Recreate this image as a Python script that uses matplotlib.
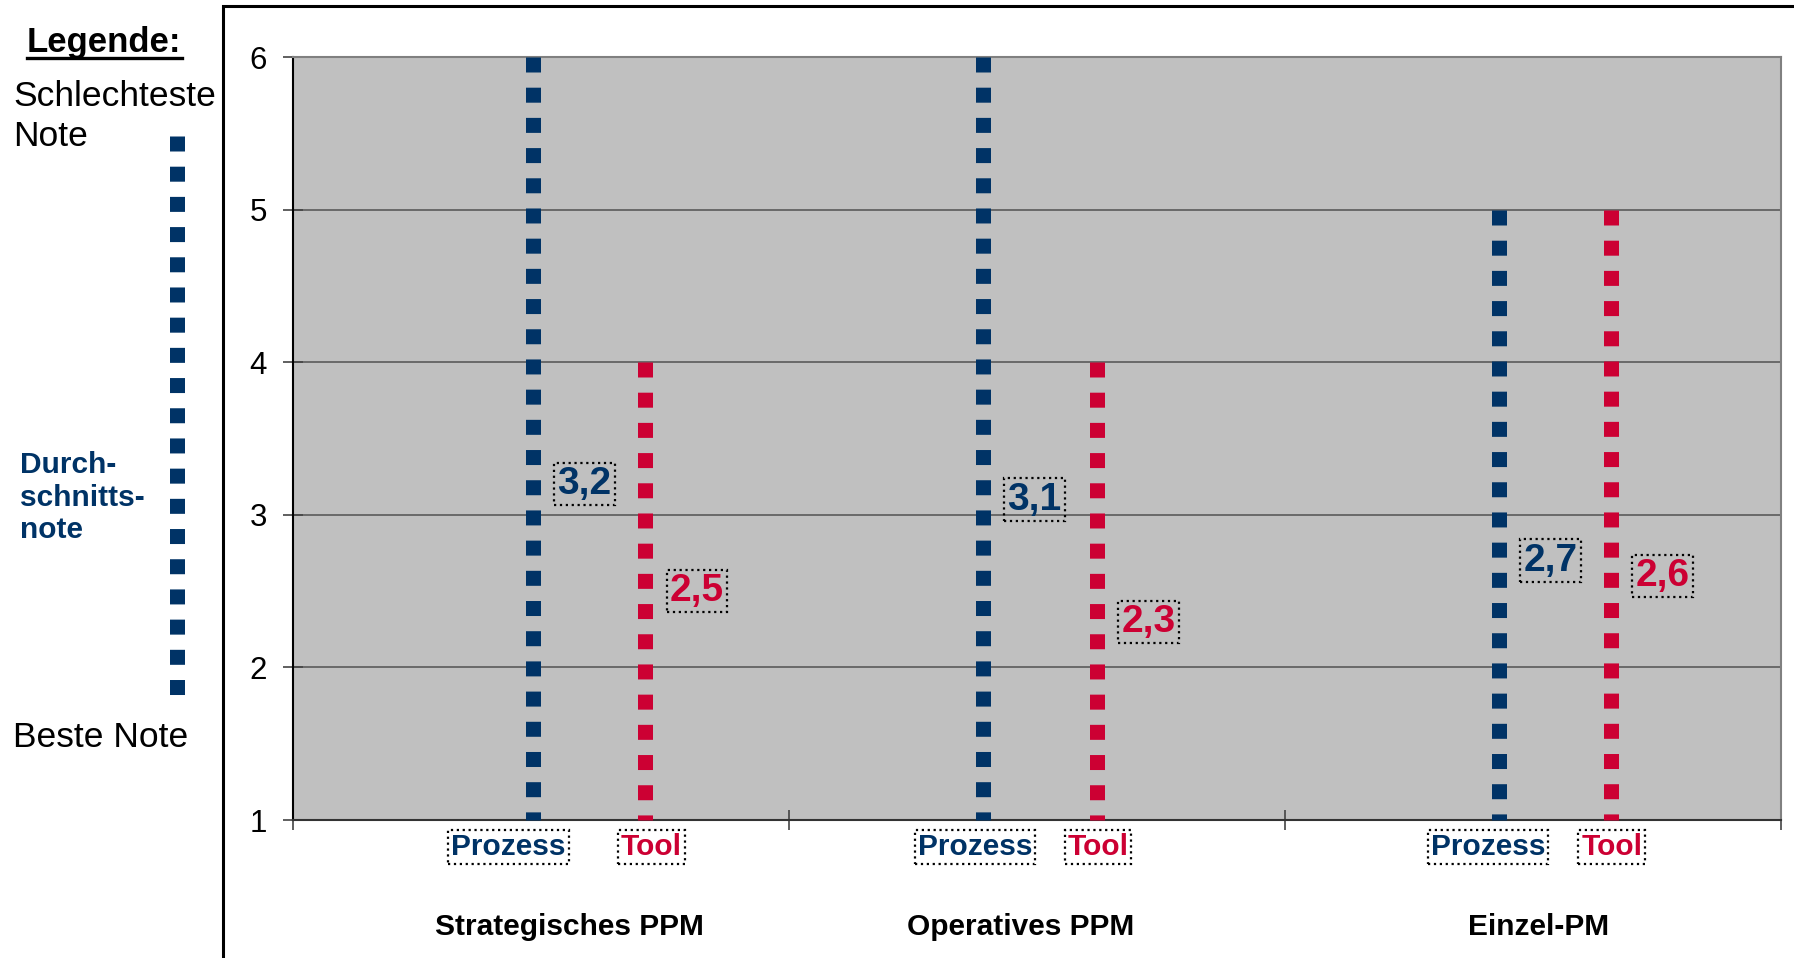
import matplotlib
matplotlib.use("Agg")
import matplotlib.pyplot as plt
from matplotlib.lines import Line2D
from matplotlib.patches import Rectangle

plt.rcParams["font.family"] = ["Liberation Sans", "DejaVu Sans"]

# --- data -------------------------------------------------------------
categories = ["Strategisches PPM", "Operatives PPM", "Einzel-PM"]
series_names = ["Prozess", "Tool"]
prozess_min = [1, 1, 1]
prozess_max = [6, 6, 5]
prozess_mean = [3.2, 3.1, 2.7]
tool_min = [1, 1, 1]
tool_max = [4, 4, 5]
tool_mean = [2.5, 2.3, 2.6]
y_ticks = [1, 2, 3, 4, 5, 6]

# --- layout / style ---------------------------------------------------
W, H, DPI = 1794, 958, 100
NAVY = "#003366"
RED = "#CC0033"
BG = "#C0C0C0"
GRID = "#5a5a5a"

# x positions of the range lines inside each category slot
prozess_x = [0.484, 1.391, 2.431]
tool_x = [0.710, 1.621, 2.657]
prozess_lbl_x = [0.434, 1.375, 2.409]
tool_lbl_x = [0.722, 1.623, 2.659]
cat_lbl_x = [0.558, 1.466, 2.512]
value_dx = 0.104

LW = 15 * 72 / DPI          # 15 px thick squares
DASH = (0, (1, 1.013))      # square, gap of about the same size


def fx(px):
    return px / W


def fy(py):
    return 1 - py / H


fig = plt.figure(figsize=(W / DPI, H / DPI), dpi=DPI)
fig.patch.set_facecolor("white")

ax = fig.add_axes([fx(293), fy(820), fx(1781) - fx(293), fy(57) - fy(820)])
ax.set_facecolor(BG)
ax.set_xlim(0, 3)
ax.set_ylim(1, 6)

ax.set_yticks(y_ticks)
ax.set_yticklabels([str(v) for v in y_ticks], fontsize=22.5)
ax.set_xticks(range(len(categories) + 1))
ax.set_xticklabels([])
ax.tick_params(axis="y", direction="inout", length=14.4, width=1.2,
               color="#444444", pad=11.5)
ax.tick_params(axis="x", direction="inout", length=14.4, width=1.2,
               color="#444444")
ax.yaxis.grid(True, color=GRID, linewidth=1.2)
ax.set_axisbelow(True)
ax.spines["left"].set_color("black")
ax.spines["left"].set_linewidth(1.5)
ax.spines["bottom"].set_color("#333333")
ax.spines["bottom"].set_linewidth(1.5)
ax.spines["top"].set_color("#808080")
ax.spines["top"].set_linewidth(1.5)
ax.spines["right"].set_color("#808080")
ax.spines["right"].set_linewidth(1.5)


def fmt(v):
    return f"{v:.1f}".replace(".", ",")


box_style = dict(boxstyle="square,pad=0.08", facecolor="none",
                 edgecolor="black", linestyle=":", linewidth=1.6)
name_box = dict(box_style, boxstyle="square,pad=0.1")

trans = ax.get_xaxis_transform()
for i in range(len(categories)):
    # range lines: drawn from the worst grade down to the best grade
    ax.plot([prozess_x[i], prozess_x[i]], [prozess_max[i], prozess_min[i]],
            color=NAVY, linewidth=LW, linestyle=DASH,
            dash_capstyle="butt", clip_on=False, zorder=3)
    ax.plot([tool_x[i], tool_x[i]], [tool_max[i], tool_min[i]],
            color=RED, linewidth=LW, linestyle=DASH,
            dash_capstyle="butt", clip_on=False, zorder=3)

    # average grade labels
    ax.text(prozess_x[i] + value_dx, prozess_mean[i], fmt(prozess_mean[i]),
            color=NAVY, fontsize=28, fontweight="bold",
            ha="center", va="center", bbox=box_style, zorder=4)
    ax.text(tool_x[i] + value_dx, tool_mean[i], fmt(tool_mean[i]),
            color=RED, fontsize=28, fontweight="bold",
            ha="center", va="center", bbox=box_style, zorder=4)

    # series names under each line
    ax.text(prozess_lbl_x[i], -0.036, series_names[0], transform=trans,
            color=NAVY, fontsize=21.5, fontweight="bold",
            ha="center", va="center", bbox=name_box)
    ax.text(tool_lbl_x[i], -0.036, series_names[1], transform=trans,
            color=RED, fontsize=21.5, fontweight="bold",
            ha="center", va="center", bbox=name_box)

    # category name
    ax.text(cat_lbl_x[i], -0.140, categories[i], transform=trans,
            color="black", fontsize=21.5, fontweight="bold",
            ha="center", va="center")

# frame around the chart area
fig.add_artist(Rectangle((fx(223), fy(1000)), fx(1900) - fx(223), fy(6) - fy(1000),
                         transform=fig.transFigure, facecolor="none",
                         edgecolor="black", linewidth=2.2))

# --- legend panel -----------------------------------------------------
fig.text(fx(27), fy(52), "Legende:", fontsize=25, fontweight="bold",
         ha="left", va="baseline")
fig.add_artist(Line2D([fx(27), fx(182)], [fy(58), fy(58)],
                      transform=fig.transFigure, color="black", linewidth=2.4))
fig.text(fx(13), fy(106), "Schlechteste", fontsize=25.5, ha="left", va="baseline")
fig.text(fx(13), fy(146), "Note", fontsize=25.5, ha="left", va="baseline")
fig.text(fx(13), fy(747), "Beste Note", fontsize=25.5, ha="left", va="baseline")
for txt, base in zip(["Durch-", "schnitts-", "note"], [473, 506, 538]):
    fig.text(fx(20), fy(base), txt, fontsize=21.5, fontweight="bold",
             color=NAVY, ha="left", va="baseline")
fig.add_artist(Line2D([fx(177), fx(177)], [fy(136), fy(696)],
                      transform=fig.transFigure, color=NAVY, linewidth=LW,
                      linestyle=DASH, dash_capstyle="butt"))

fig.savefig("out.png", dpi=DPI)
